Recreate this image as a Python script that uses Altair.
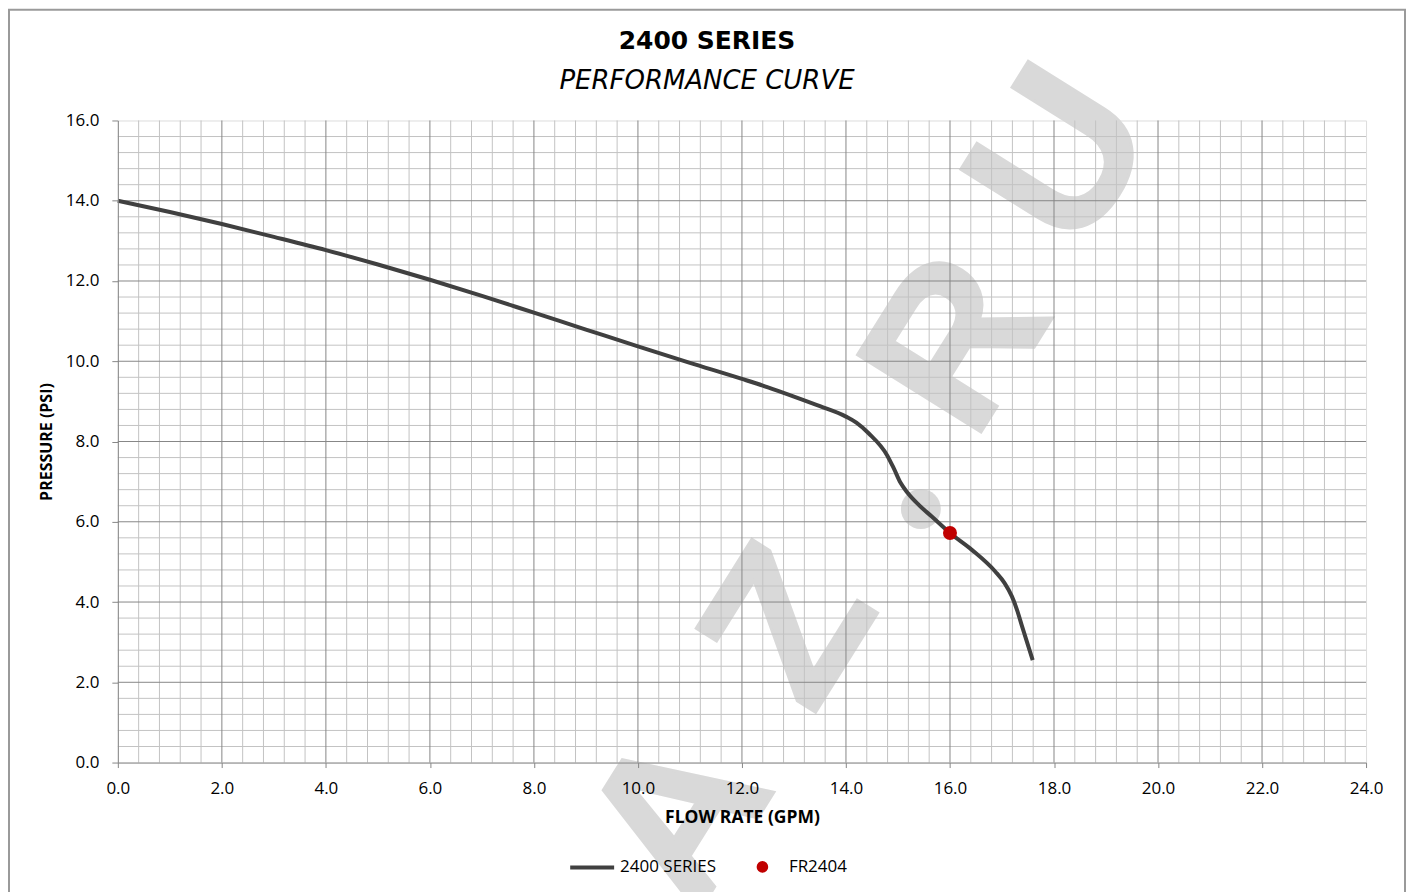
import altair as alt
import pandas as pd

# ---- data ----
flow = [0, 1, 2, 3, 4, 5, 6, 7, 8, 9, 10, 11, 12, 12.5, 13, 13.5, 14.0, 14.2, 14.44,
        14.79, 14.92, 15.05, 15.18, 15.4, 15.65, 16.0, 16.42, 16.87, 17.05, 17.19,
        17.29, 17.38, 17.59]
pressure = [14.0, 13.72, 13.42, 13.10, 12.77, 12.41, 12.03, 11.63, 11.21, 10.79,
            10.37, 9.96, 9.56, 9.35, 9.12, 8.88, 8.62, 8.47, 8.20, 7.66, 7.33, 6.97,
            6.73, 6.42, 6.13, 5.72, 5.30, 4.76, 4.47, 4.14, 3.80, 3.42, 2.55]
series_name = "2400 SERIES"

model_name = ["FR2404"]
model_flow = [16.0]
model_pressure = [5.72]

x_ticks = [0, 2, 4, 6, 8, 10, 12, 14, 16, 18, 20, 22, 24]
y_ticks = [0, 2, 4, 6, 8, 10, 12, 14, 16]
x_major_grid = [2, 4, 6, 8, 10, 12, 14, 16, 18, 20, 22]
y_major_grid = [2, 4, 6, 8, 10, 12, 14]
x_minor_grid = [round(0.4 * i, 1) for i in range(1, 60) if i % 5 != 0]
y_minor_grid = [round(0.4 * i, 1) for i in range(1, 40) if i % 5 != 0]

# watermark letters (in data units)
wm_letters = ["A", "Z", "R", "U"]
wm_x = [10.85, 12.97, 16.19, 18.19]
wm_y = [-1.39, 3.33, 10.40, 15.05]
wm_dot_x = [15.44]
wm_dot_y = [6.32]

W, H = 1250, 643
PAD = {"left": 110, "top": 112, "right": 40, "bottom": 129}

xs = alt.Scale(domain=[0, 24], nice=False, zero=False)
ys = alt.Scale(domain=[0, 16], nice=False, zero=False)

MINOR = "#c3c3c3"
MAJOR = "#878787"

x_axis = alt.Axis(
    values=x_ticks, format=".1f", title="FLOW RATE  (GPM)", grid=False,
    domainColor=MAJOR, tickColor=MAJOR, tickSize=5,
    labelFont="Open Sans", labelFontSize=17, labelColor="#000",
    labelPadding=13, labelFlush=False, labelOverlap=False,
    titleFont="Open Sans", titleFontSize=17.5, titleFontWeight="bold",
    titleColor="#000", titleY=46, zindex=1)
y_axis = alt.Axis(
    values=y_ticks, format=".1f", title="PRESSURE (PSI)", grid=False,
    domainColor=MAJOR, tickColor=MAJOR, tickSize=6,
    labelFont="Open Sans", labelFontSize=17, labelColor="#000",
    labelPadding=13, labelFlush=False, labelOverlap=False,
    titleFont="Open Sans", titleFontSize=16, titleFontWeight="bold",
    titleColor="#000", titleAngle=270, titleBaseline="middle",
    titleX=-71, zindex=1)

curve_df = pd.DataFrame({"flow": flow, "pressure": pressure, "series": series_name})
pt_df = pd.DataFrame({"flow": model_flow, "pressure": model_pressure, "name": model_name})
wm_df = pd.DataFrame({"letter": wm_letters, "x": wm_x, "y": wm_y})
dot_df = pd.DataFrame({"x": wm_dot_x, "y": wm_dot_y})

frame = alt.Chart(pd.DataFrame({"a": [0]})).mark_rect(
    fillOpacity=0, stroke="#9a9a9a", strokeWidth=2
).encode(
    x=alt.value(-PAD["left"] + 1), x2=alt.value(W + PAD["right"] - 1),
    y=alt.value(-PAD["top"] + 1), y2=alt.value(H + PAD["bottom"] + 20),
)

wm_text = alt.Chart(wm_df).mark_text(
    font="Liberation Sans", fontWeight="bold", fontSize=212, angle=302,
    color="#d9d9d9", stroke="#d9d9d9", strokeWidth=3,
    align="center", baseline="middle"
).encode(
    x=alt.X("x:Q", scale=xs, axis=x_axis),
    y=alt.Y("y:Q", scale=ys, axis=y_axis),
    text="letter:N",
)

wm_dot = alt.Chart(dot_df).mark_point(
    filled=True, color="#d9d9d9", opacity=1, size=1600
).encode(
    x=alt.X("x:Q", scale=xs, axis=x_axis),
    y=alt.Y("y:Q", scale=ys, axis=y_axis),
)

def vrules(vals, color):
    return alt.Chart(pd.DataFrame({"gx": vals})).mark_rule(
        color=color, strokeWidth=1
    ).encode(x=alt.X("gx:Q", scale=xs, axis=x_axis))

def hrules(vals, color):
    return alt.Chart(pd.DataFrame({"gy": vals})).mark_rule(
        color=color, strokeWidth=1
    ).encode(y=alt.Y("gy:Q", scale=ys, axis=y_axis))

line = alt.Chart(curve_df).mark_line(
    strokeWidth=4, interpolate="monotone"
).encode(
    x=alt.X("flow:Q", scale=xs, axis=x_axis),
    y=alt.Y("pressure:Q", scale=ys, axis=y_axis),
    color=alt.Color("series:N", scale=alt.Scale(domain=[series_name], range=["#404040"]),
                    legend=alt.Legend(orient="none", legendX=451, legendY=724,
                                      title=None, symbolType="stroke", symbolSize=1936,
                                      symbolStrokeWidth=4, labelFont="Open Sans",
                                      labelFontSize=17, labelColor="#000",
                                      labelOffset=4, padding=0)),
)

point = alt.Chart(pt_df).mark_point(
    filled=True, color="#c00000", opacity=1, size=196
).encode(
    x=alt.X("flow:Q", scale=xs, axis=x_axis),
    y=alt.Y("pressure:Q", scale=ys, axis=y_axis),
    shape=alt.Shape("name:N", scale=alt.Scale(domain=model_name, range=["circle"]),
                    legend=alt.Legend(orient="none", legendX=637, legendY=739,
                                      title=None, symbolSize=135,
                                      symbolFillColor="#c00000", symbolStrokeWidth=0,
                                      symbolOpacity=1,
                                      labelFont="Open Sans", labelFontSize=17,
                                      labelColor="#000", labelOffset=18, padding=0)),
)

chart = alt.layer(
    frame, wm_text, wm_dot,
    vrules(x_minor_grid, MINOR), hrules(y_minor_grid, MINOR),
    vrules(x_major_grid, MAJOR), hrules(y_major_grid, MAJOR),
    line, point,
).resolve_scale(color="independent", shape="independent").properties(
    width=W, height=H,
    autosize=alt.AutoSizeParams(type="none"),
    padding=PAD,
    title=alt.TitleParams(
        text="2400 SERIES", subtitle="PERFORMANCE CURVE",
        font="DejaVu Sans", fontSize=25, fontWeight="bold", color="#000",
        subtitleFont="DejaVu Sans", subtitleFontSize=26, subtitleFontStyle="italic",
        subtitleColor="#000", subtitlePadding=14, anchor="middle", dx=-35, offset=-85,
    ),
).configure_view(
    stroke="#bfbfbf", strokeWidth=1
).configure(background="white")

chart.save("out.html", embed_options={"renderer": "svg", "actions": False})
